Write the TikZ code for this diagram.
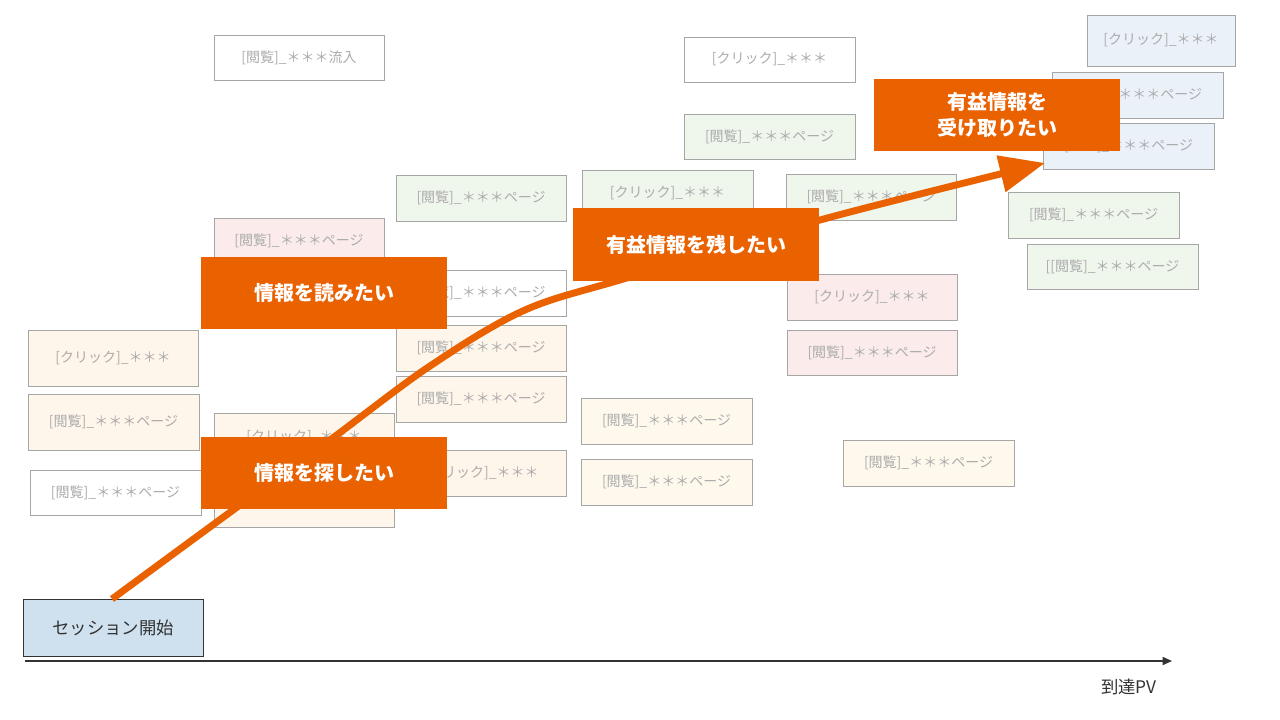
\documentclass[tikz,border=0pt]{standalone}
\usepackage{fontspec}
\setmainfont{Noto Sans CJK JP}
\usetikzlibrary{arrows.meta}
\definecolor{og}{HTML}{EA6100}
\definecolor{cblue}{HTML}{EBF1F9}
\definecolor{cgreen}{HTML}{EFF6EC}
\definecolor{cpink}{HTML}{FBEBEB}
\definecolor{ccream}{HTML}{FEF6EB}
\definecolor{cyel}{HTML}{FEF9EC}
\definecolor{sess}{HTML}{CFE0EE}
\tikzset{
 px/.style={x=0.75pt,y=-0.75pt},
 card/.style={draw=gray!70,line width=0.6pt,font=\fontsize{10.5}{12}\selectfont,text=gray!65},
 lab/.style={fill=og,text=white,font=\fontsize{15}{19}\selectfont\bfseries,align=center}
}
\newcommand{\card}[6]{\draw[card,fill=#5] (#1,#2) rectangle (#3,#4); \node[card,draw=none] at ({(#1+#3)/2},{(#2+#4)/2}) {#6};}
\begin{document}
\begin{tikzpicture}[px]
\useasboundingbox (0,0) rectangle (1280,720);
\card{214}{35}{384}{80}{white}{[閲覧]\_＊＊＊流入}
\card{684}{37}{855}{82}{white}{[クリック]\_＊＊＊}
\card{1087}{15}{1235}{66}{cblue}{[クリック]\_＊＊＊}
\card{1052}{72}{1223}{118}{cblue}{[閲覧]\_＊＊＊ページ}
\card{1043}{123}{1214}{169}{cblue}{[閲覧]\_＊＊＊ページ}
\card{684}{114}{855}{159}{cgreen}{[閲覧]\_＊＊＊ページ}
\card{396}{175}{566}{221}{cgreen}{[閲覧]\_＊＊＊ページ}
\card{582}{170}{753}{216}{cgreen}{[クリック]\_＊＊＊}
\card{786}{174}{956}{220}{cgreen}{[閲覧]\_＊＊＊ページ}
\card{1008}{192}{1179}{238}{cgreen}{[閲覧]\_＊＊＊ページ}
\card{1027}{244}{1198}{289}{cgreen}{[[閲覧]\_＊＊＊ページ}
\card{214}{218}{384}{264}{cpink}{[閲覧]\_＊＊＊ページ}
\card{396}{270}{566}{316}{white}{[閲覧]\_＊＊＊ページ}
\card{787}{274}{957}{320}{cpink}{[クリック]\_＊＊＊}
\card{787}{330}{957}{375}{cpink}{[閲覧]\_＊＊＊ページ}
\card{28}{330}{198}{386}{ccream}{[クリック]\_＊＊＊}
\card{28}{394}{199}{450}{ccream}{[閲覧]\_＊＊＊ページ}
\card{30}{470}{201}{515}{white}{[閲覧]\_＊＊＊ページ}
\draw[card,fill=ccream] (214,413) rectangle (394,527);
\node[card,draw=none] at (304,437) {[クリック]\_＊＊＊};
\card{396}{325}{566}{371}{ccream}{[閲覧]\_＊＊＊ページ}
\card{396}{376}{566}{422}{ccream}{[閲覧]\_＊＊＊ページ}
\card{396}{450}{566}{496}{ccream}{[クリック]\_＊＊＊}
\card{581}{398}{752}{444}{cyel}{[閲覧]\_＊＊＊ページ}
\card{581}{459}{752}{505}{cyel}{[閲覧]\_＊＊＊ページ}
\card{843}{440}{1014}{486}{cyel}{[閲覧]\_＊＊＊ページ}
\node[draw=black!80,fill=sess,minimum width=135pt,minimum height=42.75pt,inner sep=0pt,font=\fontsize{13}{15}\selectfont,text=black!80] (s) at (113,627.5) {セッション開始};
\coordinate (a0) at (25,661); \coordinate (a1) at (1172,661);
\draw[black!80,line width=1.2pt,-{Triangle[length=7pt,width=6pt]}] (a0) -- (a1);
\node[font=\fontsize{13}{15}\selectfont,text=black!80] at (1129,687) {到達PV};
\coordinate (c0) at (112,599);
\draw[og,line width=5.2pt,-{Triangle[length=34pt,width=27pt]}] plot[smooth,tension=0.55] coordinates {(112,599) (240,505) (330,440) (430,366) (525,310) (630,277) (820,220) (1045,163)};
\node[lab,minimum width=184.5pt,minimum height=54pt] at (324,293) {情報を読みたい};
\node[lab,minimum width=184.5pt,minimum height=54pt] at (324,473) {情報を探したい};
\node[lab,minimum width=184.5pt,minimum height=54.75pt] at (696,244.5) {有益情報を残したい};
\node[lab,minimum width=184.5pt,minimum height=54pt] at (997,115) {有益情報を\\受け取りたい};
\end{tikzpicture}
\end{document}
